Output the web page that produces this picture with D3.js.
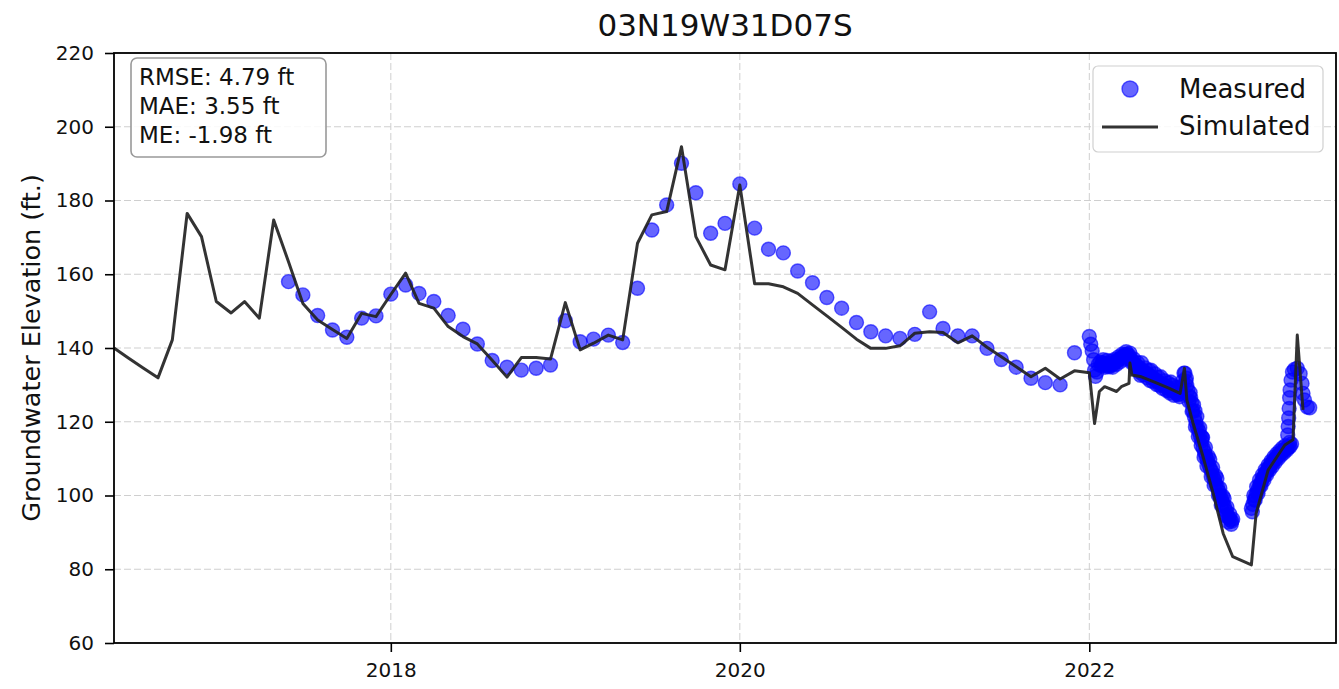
<!DOCTYPE html>
<html><head><meta charset="utf-8">
<script src="https://cdn.jsdelivr.net/npm/d3@7"></script>
<style>body{margin:0;background:#fff} text{font-family:"DejaVu Sans",sans-serif;fill:#111}</style>
</head><body><svg id="c" width="1339" height="689"></svg>
<script>
const title = "03N19W31D07S";
const yLabel = "Groundwater Elevation (ft.)";
const statsLines = ["RMSE: 4.79 ft", "MAE: 3.55 ft", "ME: -1.98 ft"];
const legendLabels = ["Measured", "Simulated"];
const xDomain = ["2016-06-01", "2023-06-01"];
const yDomain = [60, 220];
const yTicks = [60, 80, 100, 120, 140, 160, 180, 200, 220];
const xTicks = ["2018-01-01", "2020-01-01", "2022-01-01"];
const xTickLabels = ["2018", "2020", "2022"];

const simDates = [
"2016-06-01","2016-07-01","2016-08-01","2016-09-01","2016-10-01","2016-11-01","2016-12-01",
"2017-01-01","2017-02-01","2017-03-01","2017-04-01","2017-05-01","2017-06-01","2017-07-01","2017-08-01","2017-09-01","2017-10-01","2017-11-01","2017-12-01",
"2018-01-01","2018-02-01","2018-03-01","2018-04-01","2018-05-01","2018-06-01","2018-07-01","2018-08-01","2018-09-01","2018-10-01","2018-11-01","2018-12-01",
"2019-01-01","2019-02-01","2019-03-01","2019-04-01","2019-05-01","2019-06-01","2019-07-01","2019-08-01","2019-09-01","2019-10-01","2019-11-01","2019-12-01",
"2020-01-01","2020-02-01","2020-03-01","2020-04-01","2020-05-01","2020-06-01","2020-07-01","2020-08-01","2020-09-01","2020-10-01","2020-11-01","2020-12-01",
"2021-01-01","2021-02-01","2021-03-01","2021-04-01","2021-05-01","2021-06-01","2021-07-01","2021-08-01","2021-09-01","2021-10-01","2021-11-01","2021-12-01",
"2022-01-01","2022-01-12","2022-01-22","2022-02-02","2022-02-27","2022-03-09","2022-03-25","2022-03-27","2022-03-31","2022-04-20","2022-05-20","2022-06-15","2022-07-10",
"2022-07-19","2022-07-24","2022-08-06","2022-08-27","2022-09-17","2022-10-08","2022-10-28","2022-12-06","2022-12-16",
"2023-01-10","2023-02-14","2023-03-03","2023-03-12","2023-03-24"];
const simValues = [
140.0,137.3,134.6,131.9,142.2,176.5,170.2,
152.6,149.5,152.6,148.1,174.7,163.4,152.1,147.6,145.0,142.6,149.4,148.5,
154.5,160.3,152.1,150.8,145.8,143.1,141.1,136.7,132.1,137.4,137.4,137.0,
152.3,139.5,141.3,143.5,142.2,168.4,176.1,177.0,194.6,170.2,162.5,161.2,
184.2,157.4,157.4,156.6,154.8,151.7,148.7,145.6,142.4,139.9,139.9,140.6,
144.0,144.4,144.2,141.4,143.3,140.2,137.6,134.9,132.2,134.5,131.6,133.8,
133.3,119.5,128.2,129.5,128.2,129.5,130.4,135.9,132.7,132.2,130.6,129.2,127.7,
134.5,125.9,119.6,110.5,100.6,89.7,83.4,81.2,95.2,
106.9,113.7,115.1,143.5,123.2];

const measDates = [
"2017-06-01","2017-07-01","2017-08-01","2017-09-01","2017-10-01","2017-11-01","2017-12-01",
"2018-01-01","2018-02-01","2018-03-01","2018-04-01","2018-05-01","2018-06-01","2018-07-01","2018-08-01","2018-09-01","2018-10-01","2018-11-01","2018-12-01",
"2019-01-01","2019-02-01","2019-03-01","2019-04-01","2019-05-01","2019-06-01","2019-07-01","2019-08-01","2019-09-01","2019-10-01","2019-11-01","2019-12-01",
"2020-01-01","2020-02-01","2020-03-01","2020-04-01","2020-05-01","2020-06-01","2020-07-01","2020-08-01","2020-09-01","2020-10-01","2020-11-01","2020-12-01",
"2021-01-01","2021-02-01","2021-03-01","2021-04-01","2021-05-01","2021-06-01","2021-07-01","2021-08-01","2021-09-01","2021-10-01","2021-11-01","2021-12-01",
"2022-01-01","2022-01-04","2022-01-07","2022-01-10","2022-01-12","2022-01-14","2022-01-17","2022-01-20","2022-01-24","2022-01-28",
"2022-02-01","2022-02-05","2022-02-09","2022-02-13","2022-02-17","2022-02-21","2022-02-25",
"2022-03-01","2022-03-05","2022-03-09","2022-03-13","2022-03-17","2022-03-21","2022-03-25","2022-03-29",
"2022-04-02","2022-04-06","2022-04-10","2022-04-14","2022-04-18","2022-04-22","2022-04-26","2022-04-30",
"2022-05-04","2022-05-08","2022-05-12","2022-05-16","2022-05-20","2022-05-24","2022-05-28",
"2022-06-01","2022-06-05","2022-06-09","2022-06-13","2022-06-17","2022-06-21","2022-06-25","2022-06-29",
"2022-07-03","2022-07-07","2022-07-11","2022-07-15","2022-07-18",
"2022-04-18","2022-05-08","2022-05-28","2022-06-17","2022-07-05",
"2022-04-20","2022-05-10","2022-05-30","2022-06-20",
"2022-01-26","2022-01-30","2022-02-03","2022-02-07","2022-02-11","2022-02-15","2022-02-19","2022-02-23","2022-02-27",
"2022-03-03","2022-03-07","2022-03-11","2022-03-15","2022-03-19","2022-03-23","2022-03-27","2022-03-31",
"2022-04-04","2022-04-08","2022-04-12","2022-04-16","2022-04-24","2022-04-28",
"2022-05-02","2022-05-06","2022-05-14","2022-05-18","2022-05-22","2022-05-26",
"2022-06-03","2022-06-07","2022-06-11","2022-06-15","2022-06-19","2022-06-23","2022-06-27","2022-07-01","2022-07-09","2022-07-13",
"2022-07-20","2022-07-22","2022-07-24","2022-07-26","2022-07-29","2022-08-01","2022-08-03","2022-08-06","2022-08-09","2022-08-12","2022-08-15","2022-08-18",
"2022-08-21","2022-08-24","2022-08-27","2022-08-30","2022-09-02","2022-09-05","2022-09-08","2022-09-11","2022-09-14","2022-09-17","2022-09-20","2022-09-23",
"2022-09-26","2022-09-29","2022-10-02","2022-10-05","2022-10-08","2022-10-11","2022-10-14","2022-10-17","2022-10-20","2022-10-23","2022-10-26",
"2022-08-10","2022-08-25","2022-09-10","2022-09-25","2022-10-10",
"2022-07-23","2022-07-28","2022-07-31","2022-08-04","2022-08-07","2022-08-11","2022-08-14","2022-08-17","2022-08-20","2022-08-23","2022-08-26",
"2022-08-29","2022-09-01","2022-09-04","2022-09-07","2022-09-13","2022-09-16","2022-09-19","2022-09-22","2022-09-28","2022-10-01",
"2022-10-04","2022-10-07","2022-10-13","2022-10-16","2022-10-19","2022-10-22","2022-10-25","2022-10-28",
"2022-12-06","2022-12-09","2022-12-12","2022-12-15","2022-12-18","2022-12-21","2022-12-24","2022-12-27","2022-12-30",
"2023-01-02","2023-01-05","2023-01-08","2023-01-11","2023-01-14","2023-01-17","2023-01-20","2023-01-23","2023-01-26","2023-01-29",
"2023-02-01","2023-02-04","2023-02-07","2023-02-10","2023-02-13","2023-02-16","2023-02-19","2023-02-22","2023-02-25",
"2022-12-08","2022-12-11","2022-12-14","2022-12-17","2022-12-20","2022-12-23","2022-12-26","2022-12-29",
"2023-01-01","2023-01-04","2023-01-07","2023-01-10","2023-01-13","2023-01-16","2023-01-19","2023-01-22","2023-01-25","2023-01-28","2023-01-31",
"2023-02-03","2023-02-06","2023-02-09","2023-02-12","2023-02-15","2023-02-18","2023-02-24","2023-02-28",
"2023-02-20","2023-02-21","2023-02-22","2023-02-23","2023-02-24","2023-02-25","2023-02-27","2023-03-02","2023-03-06","2023-03-12",
"2023-03-18","2023-03-22","2023-03-24","2023-03-27","2023-04-02","2023-04-07"];
const measValues = [
158.0,154.4,148.8,144.9,142.9,148.1,148.7,
154.6,157.1,154.8,152.6,148.8,145.1,141.1,136.6,134.8,134.0,134.5,135.4,
147.4,141.7,142.4,143.5,141.5,156.2,172.0,178.8,190.1,182.1,171.1,173.8,
184.5,172.5,166.8,165.8,160.9,157.7,153.7,150.8,146.9,144.4,143.3,142.6,
143.7,149.8,145.3,143.3,143.3,139.9,136.9,134.8,131.8,130.6,130.0,138.7,
143.1,141.0,139.2,136.8,134.0,132.3,133.5,135.6,136.2,136.0,
135.4,135.8,135.2,135.6,135.3,135.8,136.2,
136.6,137.0,137.4,137.8,138.2,138.4,138.0,137.0,
136.2,135.6,135.2,134.7,134.3,133.9,133.5,133.1,
132.8,132.4,132.0,131.7,131.3,130.9,130.6,
130.2,129.9,129.6,129.3,129.0,128.7,128.4,128.1,
127.8,127.6,128.4,131.0,133.2,
132.6,131.2,129.8,128.3,127.3,
136.0,134.0,132.2,130.8,
135.2,136.8,134.8,136.6,134.9,136.4,134.8,136.9,135.6,
137.6,136.3,138.3,137.0,139.0,137.4,138.6,136.0,
137.0,134.4,136.0,133.5,132.7,134.6,
131.9,133.9,130.9,133.0,130.1,132.0,
129.1,131.1,128.5,130.5,127.8,129.9,127.2,129.3,126.8,129.6,
133.2,131.0,129.8,128.6,127.0,126.5,125.2,122.9,121.3,119.9,118.6,117.5,
116.2,114.8,112.9,111.8,110.6,109.5,108.4,107.3,106.5,105.2,104.2,103.0,
102.3,101.1,100.0,98.9,97.9,96.9,95.8,94.6,94.0,93.4,93.0,
123.0,115.8,109.8,104.6,99.2,
131.8,125.6,127.9,122.8,124.6,118.6,121.4,116.0,118.4,113.6,115.7,
110.4,113.0,108.0,110.6,105.1,107.6,102.8,105.4,100.0,102.0,
97.4,99.9,94.5,96.8,92.8,94.9,92.2,93.6,
96.5,97.6,98.8,100.0,101.0,102.0,102.9,103.8,104.6,
105.4,106.1,106.8,107.4,108.0,108.6,109.1,109.6,110.1,110.6,
111.0,111.4,111.8,112.1,112.4,112.7,112.9,113.1,113.3,
95.6,100.0,98.8,102.4,100.6,104.2,102.6,105.6,
104.1,107.0,105.6,108.2,106.9,109.3,107.9,110.4,109.0,111.3,110.0,
112.1,110.9,112.9,111.6,113.5,112.3,114.4,114.0,
116.4,118.7,121.0,123.6,126.5,128.6,131.3,133.5,134.2,134.5,
133.0,130.4,127.7,125.9,124.0,123.8];

const parse = d3.timeParse("%Y-%m-%d");
const W = 1339, H = 689;
const m = {left: 114, right: 3, top: 53, bottom: 46};
const svg = d3.select("#c");
const x = d3.scaleTime().domain(xDomain.map(parse)).range([m.left, W - m.right]);
const y = d3.scaleLinear().domain(yDomain).range([H - m.bottom, m.top]);

const sim = simDates.map((d, i) => ({d: parse(d), v: simValues[i]}));
const meas = measDates.map((d, i) => ({d: parse(d), v: measValues[i]}));

// grid
const grid = svg.append("g");
grid.selectAll("line.h").data(yTicks).join("line")
  .attr("x1", m.left).attr("x2", W - m.right)
  .attr("y1", d => y(d)).attr("y2", d => y(d))
  .attr("stroke", "#cfcfcf").attr("stroke-width", 1).attr("stroke-dasharray", "7,3");
grid.selectAll("line.v").data(xTicks).join("line")
  .attr("x1", d => x(parse(d))).attr("x2", d => x(parse(d)))
  .attr("y1", m.top).attr("y2", H - m.bottom)
  .attr("stroke", "#cfcfcf").attr("stroke-width", 1).attr("stroke-dasharray", "7,3");

// measured points
svg.append("g").selectAll("circle").data(meas).join("circle")
  .attr("cx", d => x(d.d)).attr("cy", d => y(d.v)).attr("r", 7)
  .attr("fill", "blue").attr("fill-opacity", 0.6)
  .attr("stroke", "blue").attr("stroke-opacity", 0.6).attr("stroke-width", 1.4);

// simulated line
svg.append("path").datum(sim)
  .attr("d", d3.line().x(d => x(d.d)).y(d => y(d.v)))
  .attr("fill", "none").attr("stroke", "#222").attr("stroke-opacity", 0.92)
  .attr("stroke-width", 3).attr("stroke-linejoin", "round");

// axes
const xAxis = d3.axisBottom(x).tickValues(xTicks.map(parse))
  .tickFormat((d, i) => xTickLabels[i]).tickSize(9).tickPadding(11).tickSizeOuter(0);
const yAxis = d3.axisLeft(y).tickValues(yTicks).tickSize(9).tickPadding(11).tickSizeOuter(0);
const gx = svg.append("g").attr("transform", `translate(0,${H - m.bottom})`).call(xAxis);
const gy = svg.append("g").attr("transform", `translate(${m.left},0)`).call(yAxis);
[gx, gy].forEach(g => {
  g.select(".domain").remove();
  g.selectAll("line").attr("stroke", "#000").attr("stroke-width", 1.6);
  g.selectAll("text").attr("font-size", 20).attr("fill", "#111")
   .attr("font-family", "DejaVu Sans, sans-serif");
});

// frame
svg.append("rect").attr("x", m.left).attr("y", m.top)
  .attr("width", W - m.left - m.right).attr("height", H - m.top - m.bottom)
  .attr("fill", "none").attr("stroke", "#000").attr("stroke-width", 1.8);

// title
svg.append("text").attr("x", (m.left + W - m.right) / 2).attr("y", 36)
  .attr("text-anchor", "middle").attr("font-size", 31).text(title);

// y label
svg.append("text").attr("transform", `translate(40,${(m.top + H - m.bottom) / 2}) rotate(-90)`)
  .attr("text-anchor", "middle").attr("font-size", 25.5).text(yLabel);

// stats box
svg.append("rect").attr("x", 131).attr("y", 58).attr("width", 195).attr("height", 99)
  .attr("rx", 6).attr("fill", "#fff").attr("fill-opacity", 0.85)
  .attr("stroke", "#999").attr("stroke-width", 1.6);
svg.append("g").selectAll("text").data(statsLines).join("text")
  .attr("x", 139).attr("y", (d, i) => 85 + i * 29)
  .attr("font-size", 23).text(d => d);

// legend
svg.append("rect").attr("x", 1093).attr("y", 66).attr("width", 230).attr("height", 86)
  .attr("rx", 5).attr("fill", "#fff").attr("fill-opacity", 0.85)
  .attr("stroke", "#d0d0d0").attr("stroke-width", 1.2);
svg.append("circle").attr("cx", 1130).attr("cy", 89).attr("r", 8)
  .attr("fill", "blue").attr("fill-opacity", 0.6)
  .attr("stroke", "blue").attr("stroke-opacity", 0.6).attr("stroke-width", 1.4);
svg.append("line").attr("x1", 1102).attr("x2", 1158).attr("y1", 127).attr("y2", 127)
  .attr("stroke", "#222").attr("stroke-opacity", 0.92).attr("stroke-width", 3);
svg.append("g").selectAll("text").data(legendLabels).join("text")
  .attr("x", 1179).attr("y", (d, i) => 98 + i * 37)
  .attr("font-size", 26).text(d => d);
</script></body></html>
